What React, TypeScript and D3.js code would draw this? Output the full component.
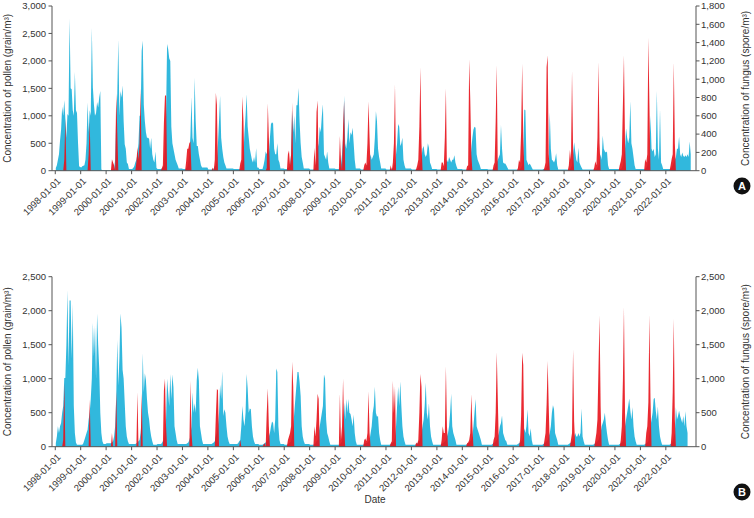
import React from "react";
import * as d3 from "d3";

// ---------- DATA (half-month maxima) ----------
const firstYear = 1998;
const tickLabels = [
  "1998-01-01", "1999-01-01", "2000-01-01", "2001-01-01", "2002-01-01",
  "2003-01-01", "2004-01-01", "2005-01-01", "2006-01-01", "2007-01-01",
  "2008-01-01", "2009-01-01", "2010-01-01", "2011-01-01", "2012-01-01",
  "2013-01-01", "2014-01-01", "2015-01-01", "2016-01-01", "2017-01-01",
  "2018-01-01", "2019-01-01", "2020-01-01", "2021-01-01", "2022-01-01",
];

const pollenTicksA = [0, 500, 1000, 1500, 2000, 2500, 3000];
const fungusTicksA = [0, 200, 400, 600, 800, 1000, 1200, 1400, 1600, 1800];
const pollenTicksB = [0, 500, 1000, 1500, 2000, 2500];
const fungusTicksB = [0, 500, 1000, 1500, 2000, 2500];

// Panel A – fungus (spore/m³), 24 half-month values per year
const fungusA: number[][] = [
  [30, 60, 120, 180, 330, 450, 700, 600, 770, 570, 360, 620, 600, 1660, 900, 890, 660, 600, 1080, 660, 630, 300, 50, 40],
  [36, 48, 54, 60, 120, 300, 745, 420, 660, 600, 1560, 910, 720, 600, 630, 750, 690, 800, 870, 12, 6, 6, 6, 6],
  [6, 6, 6, 6, 6, 12, 12, 18, 120, 600, 840, 1435, 600, 870, 800, 930, 540, 290, 240, 90, 72, 18, 18, 18],
  [18, 30, 48, 90, 120, 180, 300, 600, 600, 1310, 1420, 720, 540, 420, 360, 360, 350, 240, 360, 180, 120, 90, 210, 30],
  [18, 18, 18, 18, 24, 36, 60, 240, 600, 1385, 1330, 1230, 1200, 480, 300, 240, 180, 120, 90, 60, 24, 24, 24, 24],
  [18, 18, 18, 24, 36, 90, 180, 380, 805, 360, 300, 1015, 540, 270, 270, 180, 120, 60, 36, 36, 36, 36, 36, 36],
  [12, 12, 12, 12, 18, 24, 48, 60, 120, 300, 540, 820, 360, 240, 150, 90, 60, 24, 24, 24, 24, 24, 24, 24],
  [18, 18, 18, 18, 18, 18, 18, 36, 90, 180, 420, 600, 835, 480, 360, 240, 180, 120, 90, 150, 90, 245, 36, 36],
  [18, 18, 18, 18, 60, 120, 210, 180, 240, 180, 360, 510, 530, 515, 240, 180, 180, 300, 120, 90, 24, 24, 24, 24],
  [18, 18, 18, 30, 36, 60, 180, 660, 420, 600, 300, 715, 715, 905, 540, 300, 150, 90, 24, 24, 24, 24, 24, 24],
  [12, 12, 12, 12, 18, 30, 120, 240, 300, 480, 420, 600, 725, 180, 150, 120, 210, 90, 24, 24, 24, 24, 24, 24],
  [18, 18, 18, 18, 30, 60, 180, 360, 820, 300, 240, 360, 565, 300, 420, 390, 470, 300, 120, 24, 24, 24, 24, 24],
  [12, 12, 12, 18, 24, 48, 60, 90, 120, 180, 120, 150, 180, 360, 650, 540, 240, 150, 90, 24, 24, 24, 24, 24],
  [12, 12, 12, 12, 18, 24, 24, 60, 90, 180, 300, 510, 480, 270, 300, 360, 120, 60, 24, 24, 24, 24, 24, 24],
  [12, 12, 12, 12, 12, 18, 30, 48, 90, 150, 240, 270, 180, 150, 180, 300, 250, 90, 60, 18, 18, 18, 18, 18],
  [12, 12, 12, 12, 12, 18, 18, 48, 90, 120, 90, 150, 120, 90, 120, 120, 170, 90, 48, 18, 18, 18, 18, 18],
  [12, 12, 12, 12, 12, 18, 30, 90, 240, 360, 450, 480, 470, 180, 120, 90, 60, 18, 18, 18, 18, 18, 18, 18],
  [12, 12, 12, 12, 12, 18, 24, 60, 90, 120, 150, 180, 500, 240, 90, 78, 78, 60, 36, 12, 12, 12, 12, 12],
  [12, 12, 12, 12, 12, 12, 18, 30, 60, 180, 670, 660, 120, 90, 60, 78, 60, 36, 12, 12, 12, 12, 12, 12],
  [12, 12, 12, 12, 18, 18, 18, 36, 60, 120, 640, 240, 120, 108, 90, 120, 190, 60, 12, 12, 12, 12, 12, 12],
  [12, 12, 12, 12, 12, 12, 30, 60, 180, 310, 210, 120, 90, 250, 90, 60, 36, 12, 12, 12, 12, 12, 12, 12],
  [12, 12, 12, 12, 12, 12, 18, 36, 60, 120, 180, 120, 385, 240, 210, 200, 210, 60, 18, 18, 18, 18, 18, 18],
  [18, 18, 18, 18, 18, 18, 30, 60, 180, 240, 460, 360, 300, 360, 760, 300, 240, 150, 60, 18, 18, 18, 18, 18],
  [18, 18, 18, 18, 18, 30, 60, 120, 180, 600, 240, 210, 240, 150, 180, 870, 240, 120, 670, 90, 60, 18, 18, 18],
  [18, 18, 18, 18, 18, 36, 60, 90, 120, 150, 240, 240, 370, 180, 150, 200, 160, 150, 170, 150, 180, 150, 320, 180],
];

// Panel A – pollen (grain/m³)
const pollenA: number[][] = [
  [0, 0, 0, 0, 0, 0, 0, 0, 200, 950, 0, 0, 0, 0, 0, 0, 0, 0, 0, 0, 0, 0, 0, 0],
  [0, 0, 0, 0, 0, 0, 0, 300, 880, 0, 0, 0, 0, 0, 0, 0, 0, 0, 0, 0, 0, 0, 0, 0],
  [0, 0, 0, 0, 0, 210, 150, 100, 0, 1400, 700, 0, 0, 0, 0, 0, 0, 0, 0, 0, 0, 0, 0, 0],
  [0, 0, 0, 0, 150, 430, 200, 500, 1500, 0, 0, 0, 0, 0, 0, 0, 0, 0, 0, 0, 0, 0, 0, 0],
  [0, 0, 0, 0, 40, 100, 880, 1370, 1370, 0, 0, 0, 0, 0, 0, 0, 0, 0, 0, 0, 0, 0, 0, 0],
  [0, 0, 0, 170, 400, 400, 500, 530, 0, 0, 0, 0, 0, 0, 0, 0, 0, 0, 0, 0, 0, 0, 0, 0],
  [0, 0, 0, 0, 60, 0, 200, 1420, 1200, 0, 0, 0, 0, 0, 0, 0, 0, 0, 0, 0, 0, 0, 0, 0],
  [0, 0, 0, 0, 0, 0, 130, 200, 1350, 920, 0, 0, 0, 0, 0, 0, 0, 0, 0, 0, 0, 0, 0, 0],
  [0, 0, 0, 0, 0, 0, 0, 50, 1230, 600, 0, 0, 0, 0, 0, 0, 0, 0, 0, 0, 0, 0, 0, 0],
  [0, 0, 0, 300, 370, 100, 300, 1240, 0, 0, 0, 0, 0, 0, 0, 0, 0, 0, 0, 0, 0, 0, 0, 0],
  [0, 0, 0, 0, 420, 100, 1070, 1280, 0, 0, 0, 0, 0, 0, 0, 0, 0, 0, 0, 0, 0, 0, 0, 0],
  [0, 0, 0, 0, 630, 200, 0, 800, 1280, 0, 0, 0, 0, 0, 0, 0, 0, 0, 0, 0, 0, 0, 0, 0],
  [0, 0, 0, 100, 150, 100, 500, 1260, 600, 0, 0, 0, 0, 0, 0, 0, 0, 0, 0, 0, 0, 0, 0, 0],
  [0, 0, 0, 0, 100, 0, 150, 500, 1570, 0, 0, 0, 0, 0, 0, 0, 0, 0, 0, 0, 0, 0, 0, 0],
  [0, 0, 0, 0, 30, 100, 200, 800, 1880, 500, 0, 0, 0, 0, 0, 0, 0, 0, 0, 0, 0, 0, 0, 0],
  [0, 0, 0, 0, 150, 150, 80, 600, 1500, 0, 0, 0, 0, 0, 0, 0, 0, 0, 0, 0, 0, 0, 0, 0],
  [0, 0, 0, 0, 80, 100, 2030, 1300, 300, 0, 0, 0, 0, 0, 0, 0, 0, 0, 0, 0, 0, 0, 0, 0],
  [0, 0, 0, 0, 0, 100, 150, 900, 1920, 0, 0, 0, 0, 0, 0, 0, 0, 0, 0, 0, 0, 0, 0, 0],
  [0, 0, 0, 0, 50, 200, 150, 710, 1950, 600, 0, 0, 0, 0, 0, 0, 0, 0, 0, 0, 0, 0, 0, 0],
  [0, 0, 0, 0, 0, 60, 150, 1890, 2100, 300, 0, 0, 0, 0, 0, 0, 0, 0, 0, 0, 0, 0, 0, 0],
  [0, 0, 0, 0, 100, 375, 200, 1810, 400, 0, 0, 0, 0, 0, 0, 0, 0, 0, 0, 0, 0, 0, 0, 0],
  [0, 0, 0, 0, 60, 170, 100, 600, 1980, 500, 0, 0, 0, 0, 0, 0, 0, 0, 0, 0, 0, 0, 0, 0],
  [0, 0, 0, 0, 100, 170, 300, 1200, 2100, 500, 0, 0, 0, 0, 0, 0, 0, 0, 0, 0, 0, 0, 0, 0],
  [0, 0, 0, 0, 215, 150, 300, 2420, 1200, 0, 0, 0, 0, 0, 0, 0, 0, 0, 0, 0, 0, 0, 0, 0],
  [0, 0, 0, 0, 100, 215, 300, 1980, 500, 0, 0, 0, 0, 0, 0, 0, 0, 0, 0, 0, 0, 0, 0, 0],
];

// Panel B – fungus (spore/m³)
const fungusB: number[][] = [
  [50, 150, 300, 200, 300, 350, 500, 600, 1010, 1010, 1500, 2300, 1200, 2150, 2150, 1300, 2100, 600, 200, 60, 30, 30, 30, 30],
  [30, 30, 50, 100, 150, 200, 250, 400, 500, 700, 1000, 1820, 1330, 1780, 1000, 1960, 1500, 1150, 500, 200, 80, 40, 40, 40],
  [50, 50, 50, 50, 50, 60, 80, 150, 300, 700, 1570, 900, 1300, 1960, 1750, 1130, 1000, 650, 300, 150, 80, 40, 40, 40],
  [40, 40, 40, 40, 50, 60, 80, 100, 200, 400, 1370, 800, 1080, 980, 700, 500, 400, 250, 150, 80, 30, 30, 30, 30],
  [40, 40, 40, 40, 50, 80, 100, 200, 400, 1000, 800, 600, 1070, 700, 1060, 870, 300, 200, 100, 40, 40, 40, 40, 40],
  [40, 40, 40, 40, 50, 60, 100, 150, 300, 800, 500, 640, 500, 980, 1160, 970, 300, 200, 100, 40, 40, 40, 40, 40],
  [40, 40, 40, 40, 50, 60, 80, 150, 200, 300, 500, 910, 700, 1110, 450, 550, 500, 300, 150, 80, 40, 40, 40, 40],
  [40, 40, 40, 40, 50, 80, 100, 300, 600, 400, 300, 500, 1070, 860, 500, 560, 550, 300, 150, 80, 40, 40, 40, 40],
  [30, 30, 30, 30, 40, 50, 60, 80, 100, 150, 200, 300, 370, 350, 200, 400, 1150, 1100, 300, 100, 40, 40, 40, 40],
  [30, 30, 30, 40, 50, 60, 80, 150, 300, 500, 700, 900, 1100, 1100, 950, 750, 300, 150, 80, 40, 40, 40, 40, 40],
  [30, 30, 30, 30, 40, 50, 80, 100, 200, 300, 400, 500, 600, 1060, 1000, 400, 200, 150, 80, 30, 30, 30, 30, 30],
  [30, 30, 30, 30, 40, 50, 80, 200, 650, 400, 700, 500, 700, 500, 480, 400, 300, 470, 200, 80, 30, 30, 30, 30],
  [30, 30, 30, 40, 50, 50, 60, 80, 100, 200, 300, 500, 600, 880, 500, 440, 450, 200, 100, 30, 30, 30, 30, 30],
  [30, 30, 30, 30, 40, 50, 60, 80, 150, 300, 600, 880, 600, 960, 600, 300, 150, 80, 30, 30, 30, 30, 30, 30],
  [30, 30, 30, 30, 40, 50, 60, 80, 150, 200, 300, 400, 600, 940, 500, 400, 640, 300, 150, 80, 30, 30, 30, 30],
  [30, 30, 30, 30, 40, 50, 60, 80, 100, 150, 200, 300, 500, 780, 300, 200, 150, 100, 30, 30, 30, 30, 30, 30],
  [30, 30, 30, 30, 40, 50, 60, 80, 100, 150, 300, 500, 700, 300, 250, 200, 150, 100, 30, 30, 30, 30, 30, 30],
  [30, 30, 30, 30, 40, 50, 60, 80, 100, 150, 200, 300, 350, 460, 200, 150, 100, 80, 30, 30, 30, 30, 30, 30],
  [30, 30, 30, 30, 40, 50, 60, 80, 100, 150, 270, 200, 300, 550, 200, 150, 270, 100, 30, 30, 30, 30, 30, 30],
  [30, 30, 30, 30, 40, 50, 60, 80, 100, 150, 200, 300, 500, 610, 550, 200, 150, 100, 30, 30, 30, 30, 30, 30],
  [30, 30, 30, 30, 40, 50, 60, 80, 100, 150, 200, 150, 150, 200, 150, 200, 560, 150, 80, 30, 30, 30, 30, 30],
  [30, 30, 30, 30, 40, 50, 60, 80, 100, 150, 200, 300, 350, 400, 500, 330, 200, 100, 30, 30, 30, 30, 30, 30],
  [30, 30, 30, 30, 40, 50, 60, 80, 200, 300, 400, 500, 600, 710, 530, 400, 580, 300, 150, 80, 30, 30, 30, 30],
  [30, 30, 30, 30, 40, 50, 60, 80, 200, 300, 400, 500, 700, 720, 530, 400, 590, 300, 150, 80, 30, 30, 30, 30],
  [30, 30, 30, 30, 40, 50, 80, 150, 200, 580, 400, 450, 530, 450, 400, 350, 450, 300, 520, 300, 200],
];

// Panel B – pollen (grain/m³)
const pollenB: number[][] = [
  [0, 0, 0, 0, 0, 0, 0, 100, 940, 0, 0, 0, 0, 0, 0, 0, 0, 0, 0, 0, 0, 0, 0, 0],
  [0, 0, 0, 0, 0, 0, 0, 0, 690, 0, 0, 0, 0, 0, 0, 0, 0, 0, 0, 0, 0, 0, 0, 0],
  [0, 0, 0, 0, 0, 200, 0, 0, 0, 820, 0, 0, 0, 0, 0, 0, 0, 0, 0, 0, 0, 0, 0, 0],
  [0, 0, 0, 0, 0, 800, 0, 0, 0, 790, 0, 0, 0, 0, 0, 0, 0, 0, 0, 0, 0, 0, 0, 0],
  [0, 0, 0, 0, 0, 0, 830, 1000, 300, 0, 0, 0, 0, 0, 0, 0, 0, 0, 0, 0, 0, 0, 0, 0],
  [0, 0, 0, 0, 0, 0, 0, 970, 200, 0, 0, 0, 0, 0, 0, 0, 0, 0, 0, 0, 0, 0, 0, 0],
  [0, 0, 0, 0, 0, 0, 0, 450, 850, 830, 0, 0, 0, 0, 0, 0, 0, 0, 0, 0, 0, 0, 0, 0],
  [0, 0, 0, 0, 0, 0, 100, 0, 0, 0, 0, 0, 0, 0, 0, 0, 0, 0, 0, 0, 0, 0, 0, 0],
  [0, 0, 0, 0, 30, 50, 0, 500, 860, 300, 0, 0, 0, 0, 0, 0, 0, 0, 0, 0, 0, 0, 0, 0],
  [0, 0, 0, 100, 150, 200, 300, 1250, 880, 0, 0, 0, 0, 0, 0, 0, 0, 0, 0, 0, 0, 0, 0, 0],
  [0, 0, 0, 0, 300, 150, 400, 780, 700, 0, 0, 0, 0, 0, 0, 0, 0, 0, 0, 0, 0, 0, 0, 0],
  [0, 0, 0, 0, 780, 100, 300, 1000, 300, 0, 0, 0, 0, 0, 0, 0, 0, 0, 0, 0, 0, 0, 0, 0],
  [0, 0, 0, 100, 120, 80, 200, 810, 200, 0, 0, 0, 0, 0, 0, 0, 0, 0, 0, 0, 0, 0, 0, 0],
  [0, 0, 0, 0, 50, 80, 970, 500, 880, 0, 0, 0, 0, 0, 0, 0, 0, 0, 0, 0, 0, 0, 0, 0],
  [0, 0, 0, 0, 60, 40, 100, 500, 1070, 880, 0, 0, 0, 0, 0, 0, 0, 0, 0, 0, 0, 0, 0, 0],
  [0, 0, 0, 0, 100, 300, 200, 200, 1180, 300, 0, 0, 0, 0, 0, 0, 0, 0, 0, 0, 0, 0, 0, 0],
  [0, 0, 0, 0, 50, 60, 100, 200, 770, 300, 0, 0, 0, 0, 0, 0, 0, 0, 0, 0, 0, 0, 0, 0],
  [0, 0, 0, 0, 0, 100, 150, 500, 1390, 700, 0, 0, 0, 0, 0, 0, 0, 0, 0, 0, 0, 0, 0, 0],
  [0, 0, 0, 0, 0, 0, 100, 450, 1380, 1200, 0, 0, 0, 0, 0, 0, 0, 0, 0, 0, 0, 0, 0, 0],
  [0, 0, 0, 0, 0, 100, 200, 620, 1260, 600, 0, 0, 0, 0, 0, 0, 0, 0, 0, 0, 0, 0, 0, 0],
  [0, 0, 0, 0, 0, 0, 100, 200, 1430, 370, 0, 0, 0, 0, 0, 0, 0, 0, 0, 0, 0, 0, 0, 0],
  [0, 0, 0, 0, 0, 100, 200, 400, 1180, 1930, 600, 0, 0, 0, 0, 0, 0, 0, 0, 0, 0, 0, 0, 0],
  [0, 0, 0, 0, 0, 100, 300, 970, 2050, 500, 0, 0, 0, 0, 0, 0, 0, 0, 0, 0, 0, 0, 0, 0],
  [0, 0, 0, 0, 0, 200, 300, 650, 1940, 710, 0, 0, 0, 0, 0, 0, 0, 0, 0, 0, 0, 0, 0, 0],
  [0, 0, 0, 0, 0, 200, 800, 1880, 400, 0, 0, 0, 0, 0, 0, 0, 0, 0, 0, 0, 0, 0, 0, 0],
];

// ---------- STYLE ----------
const W = 754;
const H = 518;
const LEFT = 52;
const RIGHT = 696;
const CYAN = "#1fb2da";
const RED = "#e8121b";
const AXIS = "#555";
const TEXT = "#333";
const FONT = "'Liberation Sans', Arial, Helvetica, sans-serif";

type Pt = { t: Date; v: number };

function toPoints(rows: number[][]): Pt[] {
  const pts: Pt[] = [];
  rows.forEach((row, yi) => {
    const yr = firstYear + yi;
    const s = new Date(yr, 0, 1).getTime();
    const e = new Date(yr + 1, 0, 1).getTime();
    row.forEach((v, b) => {
      pts.push({ t: new Date(s + ((e - s) * (b + 0.5)) / 24), v });
    });
  });
  return pts;
}

const x = d3
  .scaleTime()
  .domain([new Date(1997, 10, 15), new Date(2023, 2, 10)])
  .range([LEFT, RIGHT]);

const fmt = d3.format(",");

type PanelProps = {
  top: number;
  bottom: number;
  leftMax: number;
  rightMax: number;
  leftTicks: number[];
  rightTicks: number[];
  pollen: number[][];
  fungus: number[][];
  letter: string;
  letterY: number;
};

function Panel(p: PanelProps) {
  const yL = d3.scaleLinear().domain([0, p.leftMax]).range([p.bottom, p.top]);
  const yR = d3.scaleLinear().domain([0, p.rightMax]).range([p.bottom, p.top]);
  const fungusArea = d3
    .area<Pt>()
    .x((d) => x(d.t))
    .y0(p.bottom)
    .y1((d) => yR(d.v));
  const pollenArea = d3
    .area<Pt>()
    .x((d) => x(d.t))
    .y0(p.bottom)
    .y1((d) => yL(d.v));
  const midY = (p.top + p.bottom) / 2;
  return (
    <g>
      <path d={fungusArea(toPoints(p.fungus)) || ""} fill={CYAN} fillOpacity={0.92} />
      <path d={pollenArea(toPoints(p.pollen)) || ""} fill={RED} fillOpacity={0.9} />

      {/* left axis */}
      <line x1={LEFT} x2={LEFT} y1={p.top} y2={p.bottom} stroke={AXIS} strokeWidth={1} />
      {p.leftTicks.map((t) => (
        <g key={"l" + t}>
          <line x1={LEFT - 3.5} x2={LEFT} y1={yL(t)} y2={yL(t)} stroke={AXIS} />
          <text x={LEFT - 6} y={yL(t)} dy="0.35em" textAnchor="end" fontSize={9.5} fill={TEXT} fontFamily={FONT}>
            {fmt(t)}
          </text>
        </g>
      ))}
      {/* right axis */}
      <line x1={RIGHT} x2={RIGHT} y1={p.top} y2={p.bottom} stroke={AXIS} strokeWidth={1} />
      {p.rightTicks.map((t) => (
        <g key={"r" + t}>
          <line x1={RIGHT} x2={RIGHT + 3.5} y1={yR(t)} y2={yR(t)} stroke={AXIS} />
          <text x={RIGHT + 5} y={yR(t)} dy="0.35em" textAnchor="start" fontSize={9.5} fill={TEXT} fontFamily={FONT}>
            {fmt(t)}
          </text>
        </g>
      ))}
      {/* bottom axis */}
      <line x1={LEFT} x2={RIGHT} y1={p.bottom} y2={p.bottom} stroke={AXIS} strokeWidth={1} />
      {tickLabels.map((lab, i) => {
        const tx = x(new Date(firstYear + i, 0, 1));
        return (
          <g key={lab}>
            <line x1={tx} x2={tx} y1={p.bottom} y2={p.bottom + 3.5} stroke={AXIS} />
            <text
              transform={`translate(${tx + 6},${p.bottom + 11}) rotate(-45)`}
              textAnchor="end"
              fontSize={9.5}
              fill={TEXT}
              fontFamily={FONT}
            >
              {lab}
            </text>
          </g>
        );
      })}
      {/* titles */}
      <text
        transform={`translate(11,${midY}) rotate(-90)`}
        textAnchor="middle"
        fontSize={10}
        fill={TEXT}
        fontFamily={FONT}
      >
        Concentration of pollen (grain/m³)
      </text>
      <text
        transform={`translate(748.5,${midY}) rotate(-90)`}
        textAnchor="middle"
        fontSize={10}
        fill={TEXT}
        fontFamily={FONT}
      >
        Concentration of fungus (spore/m³)
      </text>
      {/* panel letter */}
      <circle cx={742} cy={p.letterY} r={8.5} fill="#111" />
      <text
        x={742}
        y={p.letterY}
        dy="0.36em"
        textAnchor="middle"
        fontSize={11}
        fontWeight="bold"
        fill="#fff"
        fontFamily={FONT}
      >
        {p.letter}
      </text>
    </g>
  );
}

export default function App() {
  return (
    <svg
      width={W}
      height={H}
      viewBox={`0 0 ${W} ${H}`}
      style={{ position: "absolute", left: 0, top: 0, background: "#fff" }}
    >
      <rect width={W} height={H} fill="#fff" />
      <Panel
        top={6}
        bottom={170.7}
        leftMax={3000}
        rightMax={1800}
        leftTicks={pollenTicksA}
        rightTicks={fungusTicksA}
        pollen={pollenA}
        fungus={fungusA}
        letter="A"
        letterY={186}
      />
      <Panel
        top={276.7}
        bottom={446.7}
        leftMax={2500}
        rightMax={2500}
        leftTicks={pollenTicksB}
        rightTicks={fungusTicksB}
        pollen={pollenB}
        fungus={fungusB}
        letter="B"
        letterY={492}
      />
      <text x={375} y={503} textAnchor="middle" fontSize={10} fill={TEXT} fontFamily={FONT}>
        Date
      </text>
    </svg>
  );
}
